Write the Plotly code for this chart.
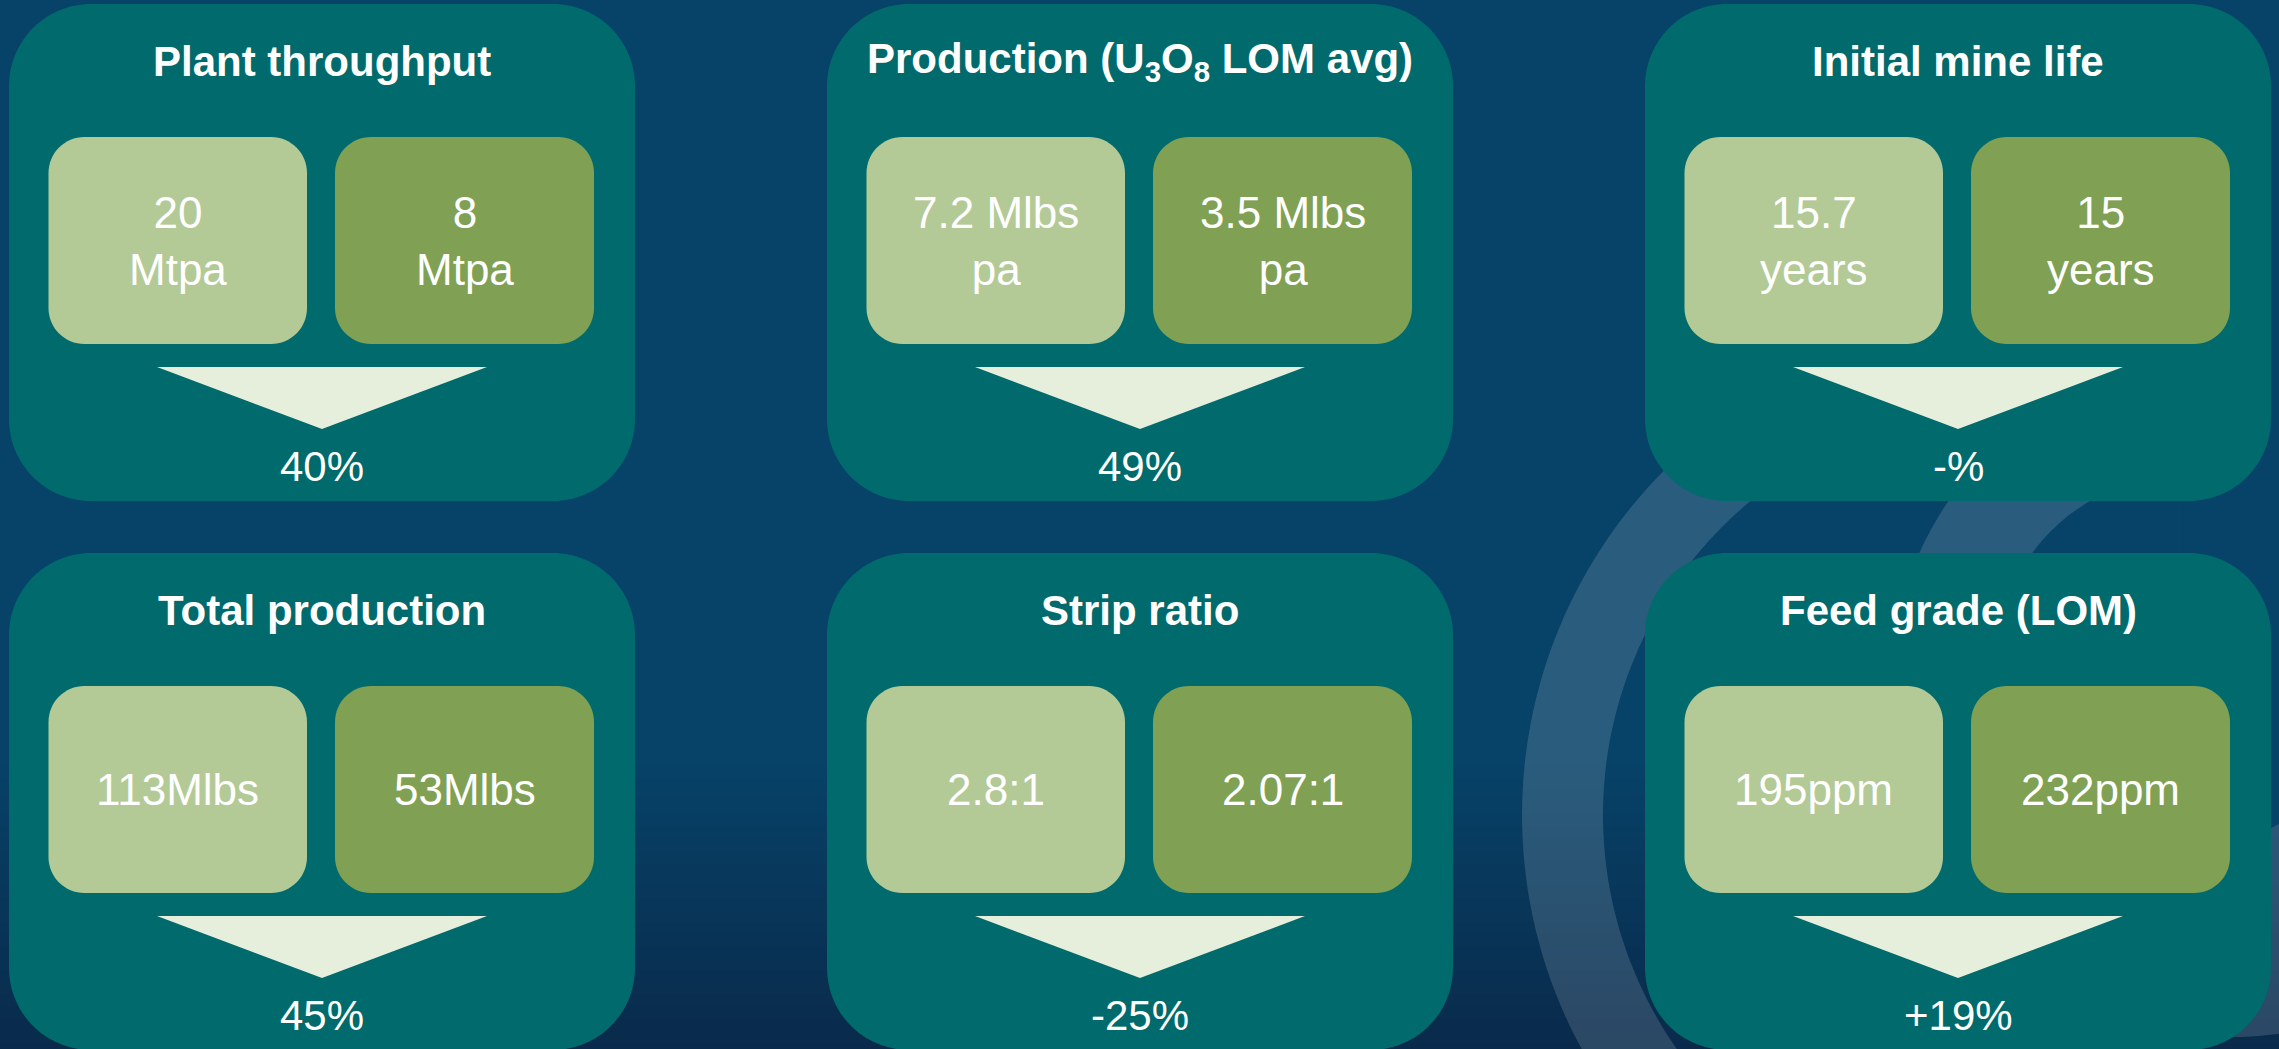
import numpy as np
import plotly.graph_objects as go

# ---------------- data ----------------
titles = ["Plant throughput",
          "Production (U<sub>3</sub>O<sub>8</sub> LOM avg)",
          "Initial mine life",
          "Total production",
          "Strip ratio",
          "Feed grade (LOM)"]
previous_values = ["20<br>Mtpa", "7.2 Mlbs<br>pa", "15.7<br>years",
                   "113Mlbs", "2.8:1", "195ppm"]
revised_values = ["8<br>Mtpa", "3.5 Mlbs<br>pa", "15<br>years",
                  "53Mlbs", "2.07:1", "232ppm"]
changes = ["40%", "49%", "-%", "45%", "-25%", "+19%"]

# ---------------- style ----------------
W, H = 2279, 1049
BG_TOP = (7, 66, 104)
BG_BOT = (9, 42, 75)
BG_TOP_CSS = "rgb(%d,%d,%d)" % BG_TOP
CARD = "#016A6C"
LIGHT = "#B3CA97"
DARK = "#80A153"
ARROW = "#E6EEDC"
RING = "rgba(255,255,255,0.14)"
FONT = "Liberation Sans, Arial, sans-serif"

CARD_X0 = 9
CARD_DX = 818
CARD_Y0 = 4
CARD_DY = 549
CARD_W = 626
CARD_H = 497


def rrect(x0, y0, x1, y1, r):
    k = 0.5523 * r
    return (f"M {x0+r},{y0} L {x1-r},{y0} "
            f"C {x1-r+k},{y0} {x1},{y0+r-k} {x1},{y0+r} "
            f"L {x1},{y1-r} "
            f"C {x1},{y1-r+k} {x1-r+k},{y1} {x1-r},{y1} "
            f"L {x0+r},{y1} "
            f"C {x0+r-k},{y1} {x0},{y1-r+k} {x0},{y1-r} "
            f"L {x0},{y0+r} "
            f"C {x0},{y0+r-k} {x0+r-k},{y0} {x0+r},{y0} Z")


def circle_pts(cx, cy, r, reverse=False, n=240):
    t = np.linspace(0, 2 * np.pi, n, endpoint=False)
    if reverse:
        t = t[::-1]
    return [(cx + r * np.cos(a), cy + r * np.sin(a)) for a in t]


def poly(pts):
    return "M " + " L ".join(f"{x:.1f},{y:.1f}" for x, y in pts) + " Z"


def ring_path(c_out, r_out, c_in, r_in):
    return (poly(circle_pts(c_out[0], c_out[1], r_out)) + " " +
            poly(circle_pts(c_in[0], c_in[1], r_in, reverse=True)))


shapes = []

# background gradient
GRAD_START = 760
shapes.append(dict(type="rect", xref="x", yref="y", x0=0, x1=W, y0=0, y1=GRAD_START + 1,
                   fillcolor=BG_TOP_CSS, line=dict(width=0), layer="below"))
step = 3
for y in range(GRAD_START, H, step):
    t = (y + step / 2 - GRAD_START) / (H - GRAD_START)
    t = min(max(t, 0), 1)
    c = tuple(int(round(BG_TOP[i] + (BG_BOT[i] - BG_TOP[i]) * t)) for i in range(3))
    shapes.append(dict(type="rect", xref="x", yref="y", x0=0, x1=W, y0=y, y1=y + step + 0.6,
                       fillcolor="rgb(%d,%d,%d)" % c, line=dict(width=0), layer="below"))

# decorative rings (background artwork)
shapes.append(dict(type="path", xref="x", yref="y",
                   path=ring_path((2011, 815), 489, (2011, 815), 408),
                   fillcolor=RING, line=dict(width=0), layer="below"))
shapes.append(dict(type="path", xref="x", yref="y",
                   path=poly(circle_pts(2232, 694, 343)),
                   fillcolor=RING, line=dict(width=0), layer="below"))
# background-coloured cut-outs of the artwork
shapes.append(dict(type="path", xref="x", yref="y",
                   path=poly(circle_pts(2183.5, 663, 187)),
                   fillcolor=BG_TOP_CSS, line=dict(width=0), layer="below"))
shapes.append(dict(type="rect", xref="x", yref="y", x0=2183.5, x1=W + 5, y0=-5, y1=663,
                   fillcolor=BG_TOP_CSS, line=dict(width=0), layer="below"))

annotations = []
for i in range(len(titles)):
    row, col = divmod(i, 3)
    x0 = CARD_X0 + col * CARD_DX
    y0 = CARD_Y0 + row * CARD_DY
    cx = x0 + 313
    # card
    shapes.append(dict(type="path", xref="x", yref="y",
                       path=rrect(x0, y0, x0 + CARD_W, y0 + CARD_H, 82),
                       fillcolor=CARD, line=dict(width=0), layer="above"))
    # value boxes
    shapes.append(dict(type="path", xref="x", yref="y",
                       path=rrect(x0 + 39.5, y0 + 133, x0 + 298, y0 + 340, 36),
                       fillcolor=LIGHT, line=dict(width=0), layer="above"))
    shapes.append(dict(type="path", xref="x", yref="y",
                       path=rrect(x0 + 326, y0 + 133, x0 + 585, y0 + 340, 36),
                       fillcolor=DARK, line=dict(width=0), layer="above"))
    # arrow
    shapes.append(dict(type="path", xref="x", yref="y",
                       path=f"M {cx-165},{y0+363} L {cx+165},{y0+363} L {cx},{y0+425} Z",
                       fillcolor=ARROW, line=dict(width=0), layer="above"))
    # texts
    annotations.append(dict(x=cx, y=y0 + 57, xref="x", yref="y", text=f"<b>{titles[i]}</b>",
                            showarrow=False, xanchor="center", yanchor="middle",
                            font=dict(family=FONT, size=42, color="white")))
    annotations.append(dict(x=x0 + 168.75, y=y0 + 236.5, xref="x", yref="y",
                            text=previous_values[i], showarrow=False,
                            xanchor="center", yanchor="middle",
                            font=dict(family=FONT, size=44, color="white")))
    annotations.append(dict(x=x0 + 455.5, y=y0 + 236.5, xref="x", yref="y",
                            text=revised_values[i], showarrow=False,
                            xanchor="center", yanchor="middle",
                            font=dict(family=FONT, size=44, color="white")))
    annotations.append(dict(x=cx, y=y0 + 462, xref="x", yref="y", text=changes[i],
                            showarrow=False, xanchor="center", yanchor="middle",
                            font=dict(family=FONT, size=42, color="white")))

fig = go.Figure()
fig.update_layout(
    width=W, height=H,
    margin=dict(l=0, r=0, t=0, b=0, pad=0),
    paper_bgcolor=BG_TOP_CSS,
    plot_bgcolor="rgba(0,0,0,0)",
    xaxis=dict(range=[0, W], visible=False, fixedrange=True),
    yaxis=dict(range=[H, 0], visible=False, fixedrange=True),
    shapes=shapes,
    annotations=annotations,
    showlegend=False,
)
fig.write_html("out.html", config={"displayModeBar": False})
